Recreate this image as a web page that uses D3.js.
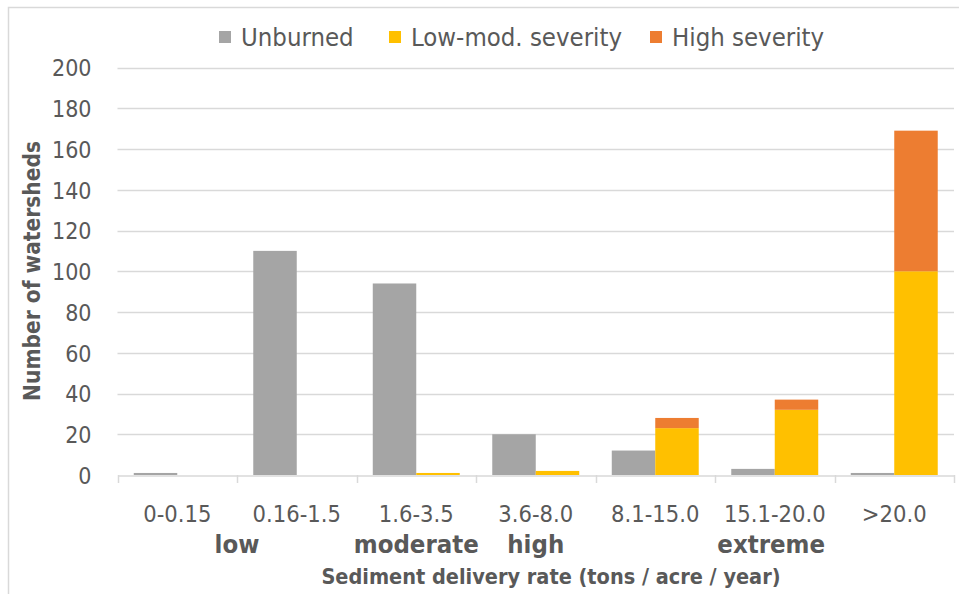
<!DOCTYPE html>
<html>
<head>
<meta charset="utf-8">
<script src="https://cdn.jsdelivr.net/npm/d3@7"></script>
<style>
  html, body { margin: 0; padding: 0; background: #fff; }
  svg { display: block; }
  text { font-family: "Liberation Sans Narrow", "DejaVu Sans Condensed", "Liberation Sans", sans-serif; fill: #595959; }
</style>
</head>
<body>
<svg id="chart" width="959" height="594"></svg>
<script>
// Sediment delivery rate classes and watershed counts per burn condition
const categories = ["0-0.15", "0.16-1.5", "1.6-3.5", "3.6-8.0", "8.1-15.0", "15.1-20.0", ">20.0"];
const unburned = [1, 110, 94, 20, 12, 3, 1];
const lowMod   = [0, 0, 1, 2, 23, 32, 100];
const highSev  = [0, 0, 0, 0, 5, 5, 69];

const yTicks = [0, 20, 40, 60, 80, 100, 120, 140, 160, 180, 200];

// Rating words under the class labels, placed at a (fractional) class index
const ratingLabels = ["low", "moderate", "high", "extreme"];
const ratingAt     = [1.0, 2.5, 3.5, 5.47];

const seriesNames  = ["Unburned", "Low-mod. severity", "High severity"];
const seriesColors = ["#A5A5A5", "#FFC000", "#ED7D31"];

const svg = d3.select("#chart");
const W = 959, H = 594;
const plot = { left: 117.5, right: 954, top: 67.5, bottom: 475 };

// Outer chart frame
svg.append("rect")
  .attr("x", 8.5).attr("y", 7.5)
  .attr("width", W + 20).attr("height", H + 20)
  .attr("fill", "none").attr("stroke", "#D9D9D9").attr("stroke-width", 1.5);

const x = d3.scaleBand().domain(categories).range([plot.left, plot.right]).padding(0);
const inner = d3.scaleBand().domain(["unburned", "burned"]).range([0, x.bandwidth()])
  .paddingInner(0).paddingOuter(0.374);
const y = d3.scaleLinear().domain([0, 200]).range([plot.bottom, plot.top]);
const idx = d3.scaleLinear().domain([0, categories.length]).range([plot.left, plot.right]);

// Horizontal gridlines
svg.append("g")
  .selectAll("line")
  .data(yTicks.filter(d => d > 0))
  .join("line")
  .attr("x1", plot.left).attr("x2", plot.right)
  .attr("y1", d => Math.round(y(d)) + 0.5).attr("y2", d => Math.round(y(d)) + 0.5)
  .attr("stroke", "#D9D9D9").attr("stroke-width", 1.3);

// Y axis labels
const yAxis = svg.append("g")
  .attr("transform", `translate(${plot.left},0)`)
  .call(d3.axisLeft(y).tickValues(yTicks).tickSize(0).tickPadding(26));
yAxis.select(".domain").remove();
yAxis.selectAll("text")
  .style("font-size", "23px")
  .attr("fill", "#595959")
  .attr("dy", "0.36em");

// Unburned bars
svg.append("g")
  .selectAll("rect")
  .data(unburned)
  .join("rect")
  .attr("x", (d, i) => x(categories[i]) + inner("unburned"))
  .attr("width", inner.bandwidth())
  .attr("y", d => y(d))
  .attr("height", d => y(0) - y(d))
  .attr("fill", seriesColors[0]);

// Stacked burned bars (low-moderate, then high severity on top)
const stackRows = categories.map((c, i) => ({ cat: c, low: lowMod[i], high: highSev[i] }));
const stacked = d3.stack().keys(["low", "high"])(stackRows);
svg.append("g")
  .selectAll("g")
  .data(stacked)
  .join("g")
  .attr("fill", (d, k) => seriesColors[k + 1])
  .selectAll("rect")
  .data(d => d)
  .join("rect")
  .attr("x", d => x(d.data.cat) + inner("burned"))
  .attr("width", inner.bandwidth())
  .attr("y", d => y(d[1]))
  .attr("height", d => y(d[0]) - y(d[1]));

// X axis with category separators
const xAxis = svg.append("g")
  .attr("transform", `translate(0,${plot.bottom + 0.5})`)
  .call(d3.axisBottom(x).tickSize(0).tickPadding(30));
xAxis.select(".domain").attr("stroke", "#D9D9D9").attr("stroke-width", 1.5);
xAxis.selectAll("text").style("font-size", "23.5px").attr("fill", "#595959");
svg.append("g")
  .selectAll("line")
  .data(d3.range(categories.length + 1))
  .join("line")
  .attr("x1", d => Math.round(idx(d)) + 0.5).attr("x2", d => Math.round(idx(d)) + 0.5)
  .attr("y1", plot.bottom).attr("y2", plot.bottom + 8)
  .attr("stroke", "#D9D9D9").attr("stroke-width", 1.5);

// Rating words
svg.append("g")
  .selectAll("text")
  .data(ratingLabels)
  .join("text")
  .attr("x", (d, i) => idx(ratingAt[i]))
  .attr("y", 553)
  .attr("text-anchor", "middle")
  .style("font-size", "25.5px")
  .style("font-weight", "bold")
  .text(d => d);

// Axis titles
svg.append("text")
  .attr("x", 551).attr("y", 584)
  .attr("text-anchor", "middle")
  .style("font-size", "21.5px").style("font-weight", "bold")
  .text("Sediment delivery rate (tons / acre / year)");

svg.append("text")
  .attr("transform", `translate(40,271) rotate(-90)`)
  .attr("text-anchor", "middle")
  .style("font-size", "22.5px").style("font-weight", "bold")
  .text("Number of watersheds");

// Legend
const legendX = [219, 389, 650];
const legend = svg.append("g")
  .selectAll("g")
  .data(seriesNames)
  .join("g")
  .attr("transform", (d, i) => `translate(${legendX[i]},37)`);
legend.append("rect")
  .attr("x", 0).attr("y", -6).attr("width", 12).attr("height", 12)
  .attr("fill", (d, i) => seriesColors[i]);
legend.append("text")
  .attr("x", 22).attr("y", 0).attr("dy", "0.35em")
  .style("font-size", "25.5px")
  .text(d => d);
</script>
</body>
</html>
